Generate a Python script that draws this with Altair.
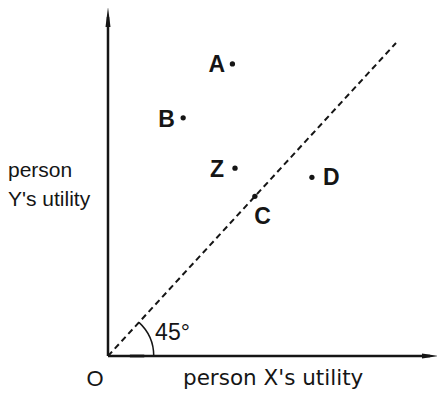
import altair as alt
import pandas as pd

# ---- data (utility units) ----
point_labels = ["A", "B", "Z", "D", "C"]
point_x = [4.32, 2.61, 4.41, 7.08, 5.10]
point_y = [9.33, 7.61, 6.00, 5.71, 5.10]

line_x = [0, 10]          # 45-degree (equal utility) line
line_y = [0, 10]

y_axis_top = 10.83
x_axis_right = 11.18

x_title = "person X's utility"
y_title = ["person", "Y's utility"]
origin_label = "O"
angle_label = "45°"

# ---- scales ----
W, H = 429, 383
xs = alt.Scale(domain=[-3.4722, 11.4236], nice=False, zero=False)
ys = alt.Scale(domain=[-1.1182, 11.118], nice=False, zero=False)
INK = "#151515"
FONT = "Liberation Sans"


def X(f="x"):
    return alt.X(f"{f}:Q", scale=xs, axis=None)


def Y(f="y"):
    return alt.Y(f"{f}:Q", scale=ys, axis=None)


pts = pd.DataFrame({"label": point_labels, "x": point_x, "y": point_y})
line_df = pd.DataFrame({"x": line_x, "y": line_y})

yaxis = alt.Chart(pd.DataFrame({"x": [0], "y": [0], "y2": [y_axis_top]})).mark_rule(
    color=INK, strokeWidth=2.5).encode(x=X(), y=Y(), y2="y2:Q")
xaxis = alt.Chart(pd.DataFrame({"x": [0], "x2": [x_axis_right], "y": [0]})).mark_rule(
    color=INK, strokeWidth=2.5).encode(x=X(), x2="x2:Q", y=Y())

yarrow = alt.Chart(pd.DataFrame({"x": [0], "y": [y_axis_top]})).mark_point(
    shape="M0,-1L0.25,1L-0.25,1Z", filled=True, size=400, color=INK, opacity=1
).encode(x=X(), y=Y())
xarrow = alt.Chart(pd.DataFrame({"x": [x_axis_right], "y": [0]})).mark_point(
    shape="M1,0L-1,-0.32L-1,0.32Z", filled=True, size=256, color=INK, opacity=1
).encode(x=X(), y=Y())

smudge = alt.Chart(pd.DataFrame({"x": [0.76], "x2": [1.26], "y": [0]})).mark_rule(
    color="#a8a8a8", strokeWidth=4).encode(x=X(), x2="x2:Q", y=Y())

diag = alt.Chart(line_df).mark_line(
    color=INK, strokeWidth=2, strokeDash=[6, 4]).encode(x=X(), y=Y())

arc = alt.Chart(pd.DataFrame({"x": [0], "y": [0]})).mark_arc(
    radius=46.5, radius2=45, theta=0.7436, theta2=1.5708, color=INK
).encode(x=X(), y=Y())

dots = alt.Chart(pts).mark_circle(size=28, color=INK, opacity=1).encode(x=X(), y=Y())

offsets = {"A": (-15.6, 1.5), "B": (-16.6, 2.3), "Z": (-18, 1.7),
           "D": (19.3, 0.7), "C": (7.7, 20.3)}
label_layers = []
for lab in point_labels:
    dx, dy = offsets[lab]
    label_layers.append(
        alt.Chart(pts[pts.label == lab]).mark_text(
            font=FONT, fontSize=23, fontWeight="bold", color=INK,
            align="center", baseline="middle", dx=dx, dy=dy
        ).encode(x=X(), y=Y(), text="label:N")
    )

angle_txt = alt.Chart(pd.DataFrame({"x": [2.24], "y": [0.735], "t": [angle_label]})).mark_text(
    font=FONT, fontSize=23, color=INK, align="center", baseline="middle"
).encode(x=X(), y=Y(), text="t:N")

origin_txt = alt.Chart(pd.DataFrame({"x": [-0.451], "y": [-0.719], "t": [origin_label]})).mark_text(
    font=FONT, fontSize=22, color=INK, align="center", baseline="middle"
).encode(x=X(), y=Y(), text="t:N")

xtitle = alt.Chart(pd.DataFrame({"x": [2.604], "y": [-0.94], "t": [x_title]})).mark_text(
    font="DejaVu Sans", fontSize=21.5, color=INK, align="left", baseline="alphabetic"
).encode(x=X(), y=Y(), text="t:N")

ytitle = alt.Chart(pd.DataFrame({"x": [-3.472, -3.472], "y": [5.719, 4.792], "t": y_title})).mark_text(
    font=FONT, fontSize=21, color=INK, align="left", baseline="alphabetic"
).encode(x=X(), y=Y(), text="t:N")

chart = alt.layer(
    smudge, diag, arc, yaxis, xaxis, yarrow, xarrow, dots, *label_layers,
    angle_txt, origin_txt, xtitle, ytitle
).properties(
    width=W, height=H, autosize=alt.AutoSizeParams(type="none"), padding=0,
    background="white"
).configure_view(stroke=None)

chart.save("out.html", embed_options={"renderer": "svg", "actions": False})
